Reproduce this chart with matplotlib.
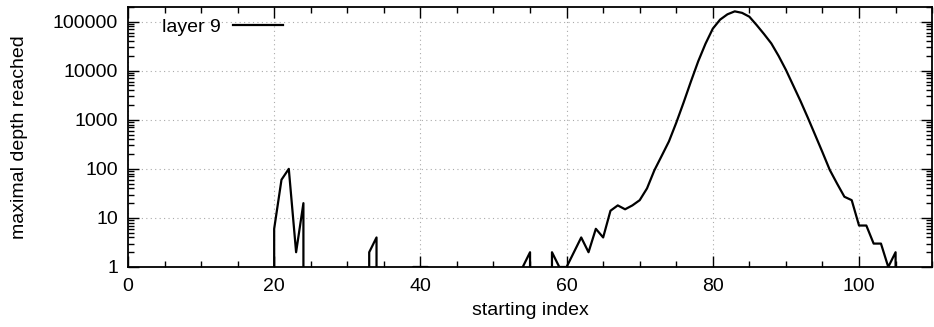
import matplotlib
matplotlib.use("Agg")
import matplotlib.pyplot as plt
from matplotlib.ticker import FixedLocator, FuncFormatter, LogLocator, MultipleLocator

# starting index 0..106, 0 means nothing reached (not drawn on log scale)
start_index = list(range(0, 107))
max_depth = [
    0, 0, 0, 0, 0, 0, 0, 0, 0, 0,
    0, 0, 0, 0, 0, 0, 0, 0, 0, 0,
    6, 60, 100, 2, 20, 0, 0, 0, 0, 0,
    0, 0, 0, 2, 4, 0, 0, 0, 0, 1,
    1, 1, 0, 0, 0, 0, 0, 0, 0, 0,
    0, 0, 0, 0, 1, 2, 0, 0, 2, 1,
    1, 2, 4, 2, 6, 4, 14, 18, 15, 18,
    23, 40, 93, 183, 363, 870, 2240, 6000, 15500, 35500,
    72000, 110000, 141000, 162000, 151000, 126000, 85000, 56000, 36000, 20000,
    10400, 5000, 2400, 1100, 490, 218, 95, 50, 27, 23,
    7, 7, 3, 3, 1, 2, 0,
]
label = "layer 9"
xticks = [0, 20, 40, 60, 80, 100]
yticks = [1, 10, 100, 1000, 10000, 100000]

plt.rcParams['font.family'] = ['Liberation Sans', 'DejaVu Sans']
plt.rcParams['font.size'] = 14

fig = plt.figure(figsize=(9.34, 3.27), dpi=100)
ax = fig.add_axes([0.137, 0.1835, 0.861, 0.7955])

ax.plot(start_index, max_depth, color='black', lw=1.6, label=label)

ax.set_yscale('log')
ax.set_xlim(0, 110)
ax.set_ylim(1, 2e5)

ax.xaxis.set_major_locator(FixedLocator(xticks))
ax.xaxis.set_minor_locator(MultipleLocator(5))
ax.yaxis.set_major_locator(FixedLocator(yticks))
ax.yaxis.set_minor_locator(LogLocator(base=10, subs=range(2, 10)))
ax.yaxis.set_major_formatter(FuncFormatter(lambda v, p: "%d" % v))
ax.yaxis.set_minor_formatter(FuncFormatter(lambda v, p: ""))

ax.tick_params(which='both', direction='in', top=True, right=True, width=1.0)
ax.tick_params(which='major', length=8)
ax.tick_params(axis='x', which='major', pad=8)
ax.tick_params(axis='y', which='major', pad=7)
ax.tick_params(which='minor', length=4)
for s in ax.spines.values():
    s.set_linewidth(1.3)

ax.grid(True, which='major', linestyle=(0, (1, 3)), color='#aaaaaa', lw=0.8)

ax.set_xlabel("starting index", labelpad=5)
ax.set_ylabel("maximal depth reached", labelpad=18)

ax.legend(loc='upper left', frameon=False, markerfirst=False, handlelength=2.6,
          handletextpad=0.6, borderaxespad=0.2, bbox_to_anchor=(0.028, 1.0))

plt.savefig('out.png', dpi=100)
